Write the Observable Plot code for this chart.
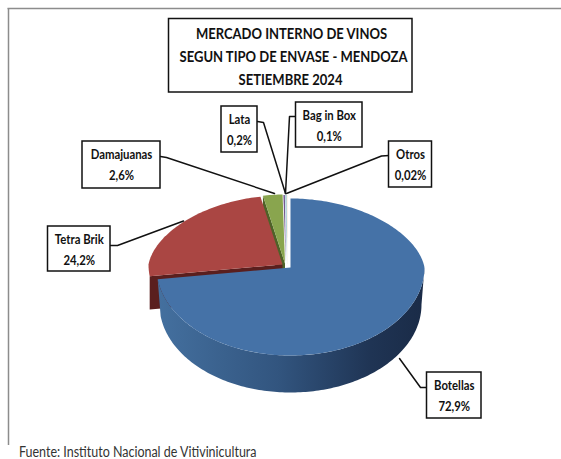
<!DOCTYPE html>
<html>
<head>
<meta charset="utf-8">
<script src="https://cdn.jsdelivr.net/npm/d3@7"></script>
<script src="https://cdn.jsdelivr.net/npm/@observablehq/plot@0.6"></script>
<style>
html,body{margin:0;padding:0;background:#fff;overflow:hidden}
svg{display:block}
</style>
</head>
<body>
<div id="chart"></div>
<script>
// ---- data
const categories = ["Botellas", "Tetra Brik", "Damajuanas", "Lata", "Bag in Box", "Otros"];
const shares = [72.9, 24.2, 2.6, 0.2, 0.1, 0.02];
const titleLines = ["MERCADO INTERNO DE VINOS", "SEGUN TIPO DE ENVASE - MENDOZA", "SETIEMBRE 2024"];
const source = "Fuente: Instituto Nacional de Vitivinicultura";

// ---- styles and layout (not data)
const topColors = ["#4572A7", "#AA4643", "#89A54E", "#71588F", "#4198AF", "#DB843D"];
const wallColors = ["#2f4f78", "#5a1f1e", "#4f6228", "#71588F", "#4198AF", "#DB843D"];
const explode = [[290, 267], [282, 264], [284.5, 263], [285.3, 263.5], [286, 263.5], [286.6, 263.5]];
const RX = 134, RY_BACK = 69, RY_FRONT = 88, DEPTH = 37, RX_BOTTOM = 131, PERSP = 0.1;
const FONT = "Lato,'Liberation Sans',sans-serif";
const labelBoxes = {
  "Botellas":   {x1: 426.5, x2: 481, y1: 372, y2: 418, leader: [[426.5, 387], [420, 387], [399, 358]]},
  "Tetra Brik": {x1: 47.5, x2: 110, y1: 226, y2: 271, leader: [[110, 245], [117, 245], [183, 220.5]]},
  "Damajuanas": {x1: 82, x2: 160, y1: 141, y2: 188, leader: [[160, 156], [166, 157], [274, 193]]},
  "Lata":       {x1: 221, x2: 257, y1: 106, y2: 152, leader: [[257, 121], [263, 122], [285, 193]]},
  "Bag in Box": {x1: 295.5, x2: 362, y1: 102, y2: 147, leader: [[295.5, 116], [289, 116], [285, 193]]},
  "Otros":      {x1: 388.5, x2: 431.5, y1: 141, y2: 187, leader: [[388.5, 155], [381, 155.5], [286, 193]]}
};

// ---- pie geometry derived from the values
const total = d3.sum(shares);
let acc = 0;
const slices = categories.map((name, i) => {
  const a0 = acc / total * 2 * Math.PI;
  acc += shares[i];
  const a1 = acc / total * 2 * Math.PI;
  return {name, i, a0, a1, cx: explode[i][0], cy: explode[i][1]};
});
function rim(s, a) {
  const c = Math.cos(a), sn = Math.sin(a);
  return {
    x: s.cx + RX * sn * (c > 0 ? 1 - PERSP * c : 1),
    y: s.cy - (c > 0 ? RY_BACK : RY_FRONT) * c
  };
}
function arc(s, a0, a1) {
  const n = Math.max(2, Math.ceil((a1 - a0) / 0.02));
  return d3.range(n + 1).map(k => rim(s, a0 + (a1 - a0) * k / n));
}
const topFace = s => [{x: s.cx, y: s.cy}, ...arc(s, s.a0, s.a1), {x: s.cx, y: s.cy}];
function outerWall(s) {
  const a0 = Math.PI / 2, a1 = s.a1;
  const top = arc(s, a0, a1);
  const n = top.length - 1;
  const bottom = d3.range(n + 1).map(k => {
    const a = a0 + (a1 - a0) * k / n;
    return {x: s.cx + RX_BOTTOM * Math.sin(a), y: s.cy + DEPTH - RY_FRONT * Math.cos(a)};
  });
  return [...top, ...bottom.reverse()];
}
function cutWall(s, a) {
  const p = rim(s, a);
  return [
    {x: s.cx, y: s.cy}, p,
    {x: p.x, y: p.y + DEPTH * 0.9},
    {x: s.cx, y: s.cy + DEPTH * 0.9}
  ];
}
const poly = (pts, fill) => Plot.line(pts, {x: "x", y: "y", fill, stroke: "none", curve: "linear"});

const gradient = () => {
  const svg = d3.create("svg:defs");
  const g = svg.append("linearGradient").attr("id", "blueSide").attr("x1", 0).attr("x2", 1).attr("y1", 0).attr("y2", 0);
  [[0, "#44709f"], [0.45, "#32557f"], [0.8, "#1f3454"], [1, "#1a2b47"]].forEach(([o, c]) =>
    g.append("stop").attr("offset", o).attr("stop-color", c));
  return svg.node();
};

// condense Lato to the narrow proportions of the original typeface
const condensed = k => (index, scales, values, dims, ctx, next) => {
  const g = next(index, scales, values, dims, ctx);
  requestAnimationFrame(() => {});
  g.setAttribute("data-condense", k);
  return g;
};

const [bot, tet, dam, lata, bag, otros] = slices;
const boxRows = categories.map((name, i) => ({
  name,
  pct: String(shares[i]).replace(".", ",") + "%",
  ...labelBoxes[name]
}));
const leaderRows = boxRows.flatMap(b => b.leader.map(([x, y]) => ({name: b.name, x, y})));
const titleRows = titleLines.map((t, i) => ({t, x: [291, 293, 290][i], y: [33.5, 57, 79.5][i]}));

const chart = Plot.plot({
  width: 561,
  height: 459,
  margin: 0,
  style: {background: "#fff", fontFamily: FONT},
  x: {domain: [0, 561], range: [0, 561], axis: null},
  y: {domain: [0, 459], range: [0, 459], axis: null},
  marks: [
    gradient,
    Plot.ruleY([8], {x1: 7.5, x2: 561, stroke: "#8c8c8c", strokeWidth: 1.5}),
    Plot.ruleX([8], {y1: 8, y2: 445, stroke: "#8c8c8c", strokeWidth: 1.5}),
    poly(cutWall(dam, dam.a0), wallColors[2]),
    poly(cutWall(tet, tet.a0), wallColors[1]),
    poly(topFace(dam), topColors[2]),
    poly(topFace(tet), topColors[1]),
    poly(topFace(lata), topColors[3]),
    poly(topFace(bag), topColors[4]),
    poly(topFace(otros), topColors[5]),
    poly(outerWall(bot), "url(#blueSide)"),
    poly(topFace(bot), topColors[0]),
    Plot.line(leaderRows, {x: "x", y: "y", z: "name", stroke: "#111", strokeWidth: 1.5, curve: "linear"}),
    Plot.rect([{x1: 168.5, x2: 412, y1: 18.5, y2: 92}], {x1: "x1", x2: "x2", y1: "y1", y2: "y2", fill: "#fff", stroke: "#111", strokeWidth: 1.5}),
    Plot.text(titleRows, {x: "x", y: "y", text: "t", fontSize: 15.5, fontWeight: "bold", fill: "#111", render: condensed(0.84)}),
    Plot.rect(boxRows, {x1: "x1", x2: "x2", y1: "y1", y2: "y2", fill: "#fff", stroke: "#111", strokeWidth: 1.5}),
    Plot.text(boxRows, {x: d => (d.x1 + d.x2) / 2, y: d => d.y1 + 13.5, text: "name", fontSize: 13.5, fontWeight: "bold", fill: "#111", render: condensed(0.84)}),
    Plot.text(boxRows, {x: d => (d.x1 + d.x2) / 2, y: d => d.y1 + 34, text: "pct", fontSize: 13.5, fontWeight: "bold", fill: "#111", render: condensed(0.84)}),
    Plot.text([source], {x: 18.5, y: 452, text: d => d, textAnchor: "start", fontSize: 14.5, fill: "#333", render: condensed(0.86)})
  ]
});
document.getElementById("chart").append(chart);
chart.querySelectorAll("[data-condense]").forEach(g => {
  const k = +g.getAttribute("data-condense");
  g.querySelectorAll("text").forEach(t => {
    const w = t.getComputedTextLength();
    t.setAttribute("textLength", (w * k).toFixed(1));
    t.setAttribute("lengthAdjust", "spacingAndGlyphs");
    console.log(t.textContent, w);
  });
});
</script>
</body>
</html>
